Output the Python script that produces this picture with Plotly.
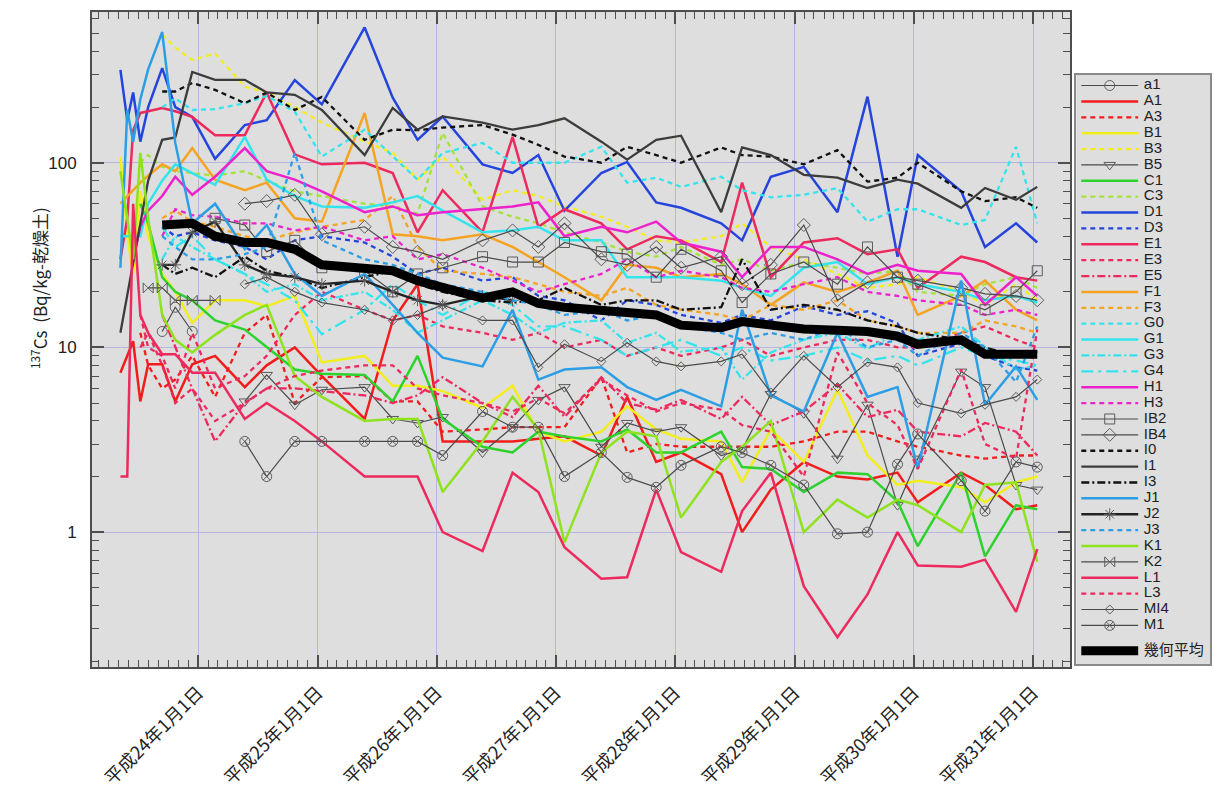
import plotly.graph_objects as go

# Sampling dates (same schedule for every station)
dates = [
    "2011-05-08", "2011-05-29", "2011-06-16", "2011-07-08", "2011-08-01", "2011-09-13",
    "2011-10-23", "2011-12-14", "2012-02-22", "2012-05-23", "2012-07-29", "2012-10-23",
    "2013-01-14", "2013-05-25", "2013-08-19", "2013-11-03", "2014-01-19", "2014-05-21",
    "2014-08-21", "2014-11-08", "2015-01-27", "2015-05-20", "2015-08-07", "2015-11-04",
    "2016-01-19", "2016-05-21", "2016-07-24", "2016-10-20", "2017-01-29", "2017-05-12",
    "2017-08-12", "2017-11-12", "2018-01-13", "2018-05-26", "2018-08-07", "2018-11-10",
    "2019-01-14",
]
N = None

# 137Cs concentration, Bq/kg dry soil
a1 = [N, N, N, N, N, 12.2, 16.5, 12.2, N, N, N, N, N, N, N, N, N, N, N, N, N, N, N, N, N, N, N, N, N, N, N, N, N, N, N, N, N]
A1 = [7.3, 9, 10.8, 5.1, 8.1, 8.1, 5.1, 8.1, 9, 6.1, 8, 10, 7, 4.1, 14, 22, 3.1, 3.1, 3.1, 3.2, 3.3, 2.6, 5.4, 2.4, 2.7, 2.06, 1.0, 1.7, 2.4, 2.0, 1.93, 2.1, 1.45, 2.1, 1.8, 1.33, 1.4]
A3 = [N, N, N, 12, 8, 6, 6.7, 9, 5.4, 12, 15, 5, 6.9, 7, 5.1, 5.1, 3.5, 3.6, 3.7, 3.7, 3.7, 6.9, 2.7, 3.0, 2.9, 2.9, 2.9, 2.9, 3.1, 3.5, 3.5, 3.1, 2.9, 2.6, 2.5, 2.6, 2.6]
B1 = [108, 40, 25, 70, 40, 25, 20, 13.6, 18, 18, 16.7, 19, 8.3, 9, 6.2, 6.2, 5.8, 4.7, 6.2, 3.5, 3.1, 3.5, 4.8, 3.6, 3.2, 3.1, 1.86, 3.6, 2.4, 5.9, 2.6, 1.8, 1.9, 1.75, 1.45, 1.86, 2.0]
B3 = [N, N, N, N, N, 495, 420, 360, 390, 258, 240, 200, 165, 130, 113, 81, 108, 63, 71, 66, 58, 51, 45, 38, 37, 40, 47, 35, 30, 25, 21, 22, 24, 20, 17, 22, 18]
B5 = [N, N, N, N, N, N, N, N, N, 5.1, 7.1, 4.9, 5.9, 6.1, 4.1, 3.9, 4.2, 2.7, 3.7, 5.2, 6.1, 2.9, 3.9, 3.5, 3.7, 2.6, 2.8, 5.6, 4.4, 2.5, 4.9, 1.4, 2.5, 7.4, 6.1, 1.8, 1.7]
C1 = [N, N, N, 60, 47, 24, 20, 18, 14, 12.5, 10, 7.6, 7.2, 7.1, 5.1, 9, 4.1, 2.9, 2.7, 3.5, 3.3, 3.1, 3.6, 2.7, 2.7, 3.5, 2.25, 2.2, 1.65, 2.1, 2.06, 1.47, 0.84, 2.1, 0.74, 1.4, 1.33]
C3 = [N, N, N, 100, 110, 95, 90, 88, 85, 90, 80, 70, 66, 60, 58, 53, 145, 58, 51, 47, 42, 37, 33, 31, 35, 28, 30, 26, 29, 27, 25, 26, 20, 19, 22, 24, 21]
D1 = [318, 170, 240, 130, 200, 325, 200, 177, 105, 160, 170, 280, 207, 540, 225, 133, 178, 98, 88, 110, 55, 88, 101, 61, 57, 47, 38, 84, 95, 54, 228, 31, 110, 70, 35, 47, 37]
D3 = [N, N, N, N, N, 45, 40, 42, 38, 35, 30, 38, 40, 37, 31, 25, 27, 23, 24, 19, 18, 14, 18, 17, 15, 13.6, 15, 14, 16.7, 15, 15.7, 13.5, 9, 10.5, 9, 7.8, 7.5]
E1 = [30, 50, 150, 186, 190, 198, 190, 177, 141, 141, 240, 111, 98, 100, 88, 42, 71, 42, 138, 45, 56, 47, 34, 40, 38, 29, 78, 24, 37, 39, 32, 34, 21, 31, 29, 24, 23]
E3 = [N, N, N, 15, 10, 9, 6, 12, 6, 7, 9, 15, 20, 16, 14, 15, 13, 12, 11, 12, 10, 11, 9, 10, 9, 10, 11, 9, 10, 11, 11, 10, 10, 12, 13, 11, 10]
E5 = [N, N, N, N, N, 15, 10, 6, 3.1, 5, 6, 6, 5.8, 5.5, 5.0, 5.5, 6.9, 5.0, 4.2, 6.2, 4.2, 6.9, 5, 4.6, 5.2, 4.1, 5.4, 3.8, 4.5, 6.3, 4.2, 4.6, 3.5, 3.3, 3.9, 3.5, 2.6]
F1 = [60, N, N, 78, 85, 98, 90, 120, 81, 71, 78, 50, 48, 186, 41, 40, 38, 41, 35, 29, 24, 18, 28, 27, 24, 25, 22, 17, 22.5, 20, 22.5, 26, 15, 19, 23, 16, 14]
F3 = [N, N, N, N, N, 50, 55, 48, 45, 40, 38, 42, 45, 49, 66, 35, 26, 25, 24, 22, 20, 19, 21, 17, 16, 15, 14, 17, 16, 18, 14, 13, 12, 12, 14, 13, 12]
G0 = [N, N, N, N, N, 200, 223, 193, 195, 210, 230, 189, 108, 151, 108, 81, 113, 128, 100, 100, 100, 122, 78, 83, 74, 84, 71, 65, 67, 73, 48, 56, 56, 46, 49, 122, 47]
G1 = [40, N, N, 40, 60, 80, 98, 88, 76, 138, 81, 66, 58, 57, 61, 66, 55, 42, 43, 45, 38, 38, 24, 24, 24, 23, 21, 19, 27, 29, 22, 24, 22, 20, 18, 19, 17.5]
G3 = [N, N, N, N, N, 30, 40, 35, 30, 25, 20, 22, 18, 20, 16, 12, 14, 18, 15, 12, 13.6, 14, 10.6, 12, 9.5, 10, 6.7, 9.4, 11, 12, 9.8, 12, 11, 13, 10.1, 7.6, 8]
G4 = [N, N, N, N, N, 45, 35, 40, 30, 25, 22, 18, 11.8, 16, 22, 18, 15, 20, 17, 13, 13, 11, 9, 10, 11, 9, 10, 8.5, 9, 10, 8.5, 9, 8, 10, 9, 8.5, 8]
H1 = [N, N, 30, 45, 55, 66, 84, 67, 84, 120, 90, 81, 70, 54, 58, 52, 54, 56, 58, 61, 40, 45, 42, 48, 37, 33, 24, 35, 35, 30, 25, 28, 26, 25, 17, 24, 19]
H3 = [N, N, N, N, N, 40, 56, 52, 51, 47, 47, 43, 45, 38, 40, 30, 32, 27, 23, 20, 22, 25, 30, 24, 26, 24, 21, 20, 22, 24, 20, 19, 18, 17, 15, 16, 15]
IB2 = [N, N, N, N, N, N, N, N, 50, 46, 33, 38, 27, 26, 20, 25, 27, 31, 29, 29, 37, 33, 32, 24, 34, 26, 17.5, 25, 29, 22, 35, 24, 22, 18, 16, 20, 26]
IB4 = [N, N, N, N, N, N, N, N, N, 60, 62, 67, 41, 45, 35, 33, 30, 38, 43, 35, 47, 30, 28, 35, 27, 31, 22, 28, 46, 18, 22.5, 24, 23, 21, 19.5, 19, 18]
I0 = [N, N, N, N, N, 243, 243, 270, 248, 210, 240, 193, 227, 133, 151, 150, 155, 160, 142, 125, 108, 100, 122, 110, 100, 121, 110, 108, 98, 117, 79, 83, 100, 70, 62, 65, 57]
I1 = [12, N, N, 47, 80, 133, 137, 310, 281, 281, 240, 233, 193, 110, 198, 151, 178, 165, 151, 160, 174, 130, 104, 133, 140, 54, 121, 110, 86, 83, 73, 81, 77, 57, 73, 63, 74]
I3 = [N, N, N, N, N, 28, 25, 27, 24, 31, 26, 24, 21, 24, 26, 22, 20, 18, 17.5, 18, 21, 17, 18, 18, 16, 16.5, 30, 16, 17, 16, 14, 13, 12, 11, 10, 9, 9.5]
J1 = [27, 193, 130, 220, 320, 510, 128, 47, 60, 34, 46, 25, 19, 25, 17, 12, 8.8, 7.9, 16, 6.7, 7.6, 7.8, 6.1, 5.2, 5.9, 4.8, 16, 5.5, 4.5, 12, 5.4, 6.1, 2.2, 23, 4.9, 7.9, 5.2]
J2 = [N, N, N, N, N, 28, 28, 42, 48, 28, 25, 24, 22, 23, 20, 18, 17, 19, 18, N, N, N, N, N, N, N, N, N, N, N, N, N, N, N, N, N, N]
J3 = [N, N, N, N, N, 40, 35, 30, 30, 32, 35, 113, 38, 30, 28, 25, 22, 20, 18, 17, 15, 16, 14, 15, 13, 12, 11, 12, 11, 13, 10, 11, 9, 12, 10, 6.5, 13]
K1 = [90, 50, 30, 113, 50, 15, 11, 9.4, 11.7, 15, 17, 7, 5.4, 4.0, 4.1, 4.1, 1.65, 3.1, 5.4, 3.6, 0.88, 2.7, 3.5, 3.3, 1.2, 2.4, 2.9, 4.0, 1.0, 1.5, 1.2, 1.5, 1.4, 1.0, 1.8, 1.86, 0.69]
K2 = [N, N, N, N, 21, 21, 18, 18, 18, N, N, N, N, N, N, N, N, N, N, N, N, N, N, N, N, N, N, N, N, N, N, N, N, N, N, N, N]
L1 = [2.0, 2.0, 60, 15, 12, 9.2, 9.2, 7.3, 7.3, 4.1, 5.0, 4.0, 3.1, 2.0, 2.0, 2.0, 1.0, 0.79, 2.1, 1.65, 0.83, 0.56, 0.57, 1.7, 0.78, 0.61, 1.3, 2.1, 0.51, 0.27, 0.46, 1.0, 0.66, 0.65, 0.71, 0.37, 0.81]
L3 = [N, N, N, 10, 12, 8, 5, 6, 4, 5, 6, 7, 7.5, 8, 8, 6, 5.5, 5, 4.5, 5.3, 4.4, 6.7, 5.5, 4.5, 5, 4.6, 3.8, 3.5, 2.0, 9.4, 5, 3.8, 2.2, 7.6, 3.0, 2.5, 12.5]
MI4 = [N, N, N, N, N, N, N, N, N, 22, 24, 20, 17.5, 16, 14, 15, 17, 14, 14, 7.8, 10.4, 8.4, 10.6, 8.4, 7.9, 8.4, 9.2, 5.7, 9, 6.1, 8.3, 7.8, 5, 4.4, 4.9, 5.4, 6.7]
M1 = [N, N, N, N, N, N, N, N, N, 3.1, 2.0, 3.1, 3.1, 3.1, 3.1, 3.1, 2.6, 4.5, 3.7, 3.7, 2.0, 2.7, 1.98, 1.75, 2.3, 2.9, 2.7, 2.3, 1.8, 0.98, 1.0, 2.33, 3.4, 1.9, 1.3, 2.4, 2.25]
geo_mean = [N, N, N, N, N, 46, 46, 47, 40, 37, 37, 34, 28, 27, 26, 23, 21, 18.5, 20, 17.3, 16.5, 15.8, 15.6, 15, 13.2, 12.8, 13.8, 13.1, 12.6, 12.4, 12.2, 11.5, 10.4, 11, 9.2, 9.2, 9.2]

year_ticks = ["2012-01-01", "2013-01-01", "2014-01-01", "2015-01-01",
              "2016-01-01", "2017-01-01", "2018-01-01", "2019-01-01"]
year_labels = ["平成24年1月1日", "平成25年1月1日", "平成26年1月1日", "平成27年1月1日",
               "平成28年1月1日", "平成29年1月1日", "平成30年1月1日", "平成31年1月1日"]

# --- styles -------------------------------------------------------------
RED, YEL, GRN, YGR = "#f21c1c", "#f2ee1e", "#2ed22e", "#a6e23c"
BLU, CRM, ORG, CYN = "#2444dc", "#ec2a5e", "#f4a422", "#34e4ec"
MAG, LBL, LGR, GRY = "#ee22cc", "#2c9ee6", "#8ee21e", "#4a4a4a"
MARK = "#5c5c5c"
DASH = "5px,4px"
DASHDOT = "8px,3px,2px,3px"
LONGDASHDOT = "12px,5px,3px,5px"

series = [
    ("a1", a1, GRY, 1.2, "solid", "circle-open"),
    ("A1", A1, RED, 2.5, "solid", None),
    ("A3", A3, RED, 2.3, DASH, None),
    ("B1", B1, YEL, 2.5, "solid", None),
    ("B3", B3, YEL, 2.3, DASH, None),
    ("B5", B5, GRY, 1.2, "solid", "triangle-down-open"),
    ("C1", C1, GRN, 2.5, "solid", None),
    ("C3", C3, YGR, 2.3, DASH, None),
    ("D1", D1, BLU, 2.5, "solid", None),
    ("D3", D3, BLU, 2.3, DASH, None),
    ("E1", E1, CRM, 2.5, "solid", None),
    ("E3", E3, CRM, 2.3, DASH, None),
    ("E5", E5, CRM, 2.3, DASHDOT, None),
    ("F1", F1, ORG, 2.5, "solid", None),
    ("F3", F3, ORG, 2.3, DASH, None),
    ("G0", G0, CYN, 2.3, DASH, None),
    ("G1", G1, CYN, 2.5, "solid", None),
    ("G3", G3, CYN, 2.3, DASHDOT, None),
    ("G4", G4, CYN, 2.3, LONGDASHDOT, None),
    ("H1", H1, MAG, 2.5, "solid", None),
    ("H3", H3, MAG, 2.3, DASH, None),
    ("IB2", IB2, GRY, 1.2, "solid", "square-open"),
    ("IB4", IB4, GRY, 1.2, "solid", "diamond-open"),
    ("I0", I0, "#111111", 2.3, DASH, None),
    ("I1", I1, "#3c3c3c", 2.3, "solid", None),
    ("I3", I3, "#111111", 2.3, DASHDOT, None),
    ("J1", J1, LBL, 2.5, "solid", None),
    ("J2", J2, "#222222", 2.3, "solid", "asterisk-open"),
    ("J3", J3, LBL, 2.3, DASH, None),
    ("K1", K1, LGR, 2.5, "solid", None),
    ("K2", K2, GRY, 1.2, "solid", "bowtie-open"),
    ("L1", L1, CRM, 2.5, "solid", None),
    ("L3", L3, CRM, 2.3, DASH, None),
    ("MI4", MI4, GRY, 1.2, "solid", "diamond-open"),
    ("M1", M1, GRY, 1.2, "solid", "circle-x-open"),
]
marker_size = {"MI4": 7}

fig = go.Figure()

for name, vals, color, width, dash, symbol in series:
    mode = "lines+markers" if symbol else "lines"
    fig.add_trace(go.Scatter(
        x=dates, y=vals, name=name, mode=mode, connectgaps=True,
        line=dict(color=color, width=width, dash=dash),
        marker=dict(symbol=symbol or "circle", size=marker_size.get(name, 10),
                    color=MARK, line=dict(color=MARK, width=1)),
        showlegend=False, xaxis="x", yaxis="y",
    ))

fig.add_trace(go.Scatter(
    x=dates, y=geo_mean, name="幾何平均", mode="lines", connectgaps=True,
    line=dict(color="#000000", width=9), showlegend=False, xaxis="x", yaxis="y",
))

# --- hand-built legend on its own small axes ---------------------------
for row, (name, vals, color, width, dash, symbol) in enumerate(series):
    fig.add_trace(go.Scatter(
        x=[0, 1], y=[row] * 2, mode="lines",
        line=dict(color=color, width=width, dash=dash),
        showlegend=False, hoverinfo="skip", xaxis="x2", yaxis="y2",
    ))
    if symbol:
        fig.add_trace(go.Scatter(
            x=[0.5], y=[row], mode="markers",
            marker=dict(symbol=symbol, size=marker_size.get(name, 10),
                        color=MARK, line=dict(color=MARK, width=1)),
            showlegend=False, hoverinfo="skip", xaxis="x2", yaxis="y2",
        ))
mean_row = len(series) + 0.6
fig.add_trace(go.Scatter(
    x=[0, 1], y=[mean_row] * 2, mode="lines", line=dict(color="#000000", width=9),
    showlegend=False, hoverinfo="skip", xaxis="x2", yaxis="y2",
))
fig.add_trace(go.Scatter(
    x=[1.1] * len(series), y=list(range(len(series))), mode="text",
    text=[s[0] for s in series], textposition="middle right",
    textfont=dict(family="Liberation Sans, Arial", size=15, color="#222222"),
    showlegend=False, hoverinfo="skip", xaxis="x2", yaxis="y2",
))
fig.add_trace(go.Scatter(
    x=[1.1], y=[mean_row], mode="text", text=["幾何平均"], textposition="middle right",
    textfont=dict(family="Noto Sans CJK JP", size=15, color="#222222"),
    showlegend=False, hoverinfo="skip", xaxis="x2", yaxis="y2",
))

FRAME = "#4e4e4e"
GRID = "#b6b6de"

fig.update_layout(
    width=1215, height=792, autosize=False,
    margin=dict(l=92, r=3, t=12, b=124),
    paper_bgcolor="#ffffff", plot_bgcolor="#dedede",
    font=dict(family="Noto Sans CJK JP, Liberation Sans", color="#222222"),
    xaxis=dict(
        domain=[0, 0.875], type="date", range=["2011-02-10", "2019-04-25"],
        tickmode="array", tickvals=year_ticks, ticktext=year_labels, tickangle=-45,
        tickfont=dict(size=18, family="Noto Sans CJK JP"),
        ticks="inside", ticklen=12, tickwidth=1.5, tickcolor=FRAME,
        ticklabelstandoff=6,
        minor=dict(ticks="inside", ticklen=7, tickwidth=1, tickcolor=FRAME,
                   dtick="M1", tick0="2012-01-01", showgrid=False),
        showline=True, linecolor=FRAME, linewidth=2, mirror="allticks",
        showgrid=True, gridcolor=GRID, gridwidth=1, zeroline=False,
    ),
    yaxis=dict(
        type="log", range=[-0.730, 2.816],
        tickmode="array", tickvals=[1, 10, 100], ticktext=["1", "10", "100"],
        tickfont=dict(size=17, family="Liberation Sans, Arial"),
        ticks="inside", ticklen=12, tickwidth=1.5, tickcolor=FRAME,
        ticklabelstandoff=10,
        minor=dict(ticks="inside", ticklen=7, tickwidth=1, tickcolor=FRAME,
                   tickvals=[0.2, 0.3, 0.4, 0.5, 0.6, 0.7, 0.8, 0.9,
                             2, 3, 4, 5, 6, 7, 8, 9,
                             20, 30, 40, 50, 60, 70, 80, 90,
                             200, 300, 400, 500, 600],
                   showgrid=False),
        showline=True, linecolor=FRAME, linewidth=2, mirror="allticks",
        showgrid=True, gridcolor=GRID, gridwidth=1, zeroline=False,
    ),
    xaxis2=dict(
        domain=[0.8804, 1.0], anchor="y2", range=[-0.088, 2.263],
        showgrid=False, zeroline=False, showticklabels=False, ticks="",
        showline=True, linecolor="#8a8a8a", linewidth=1.5, mirror=True, fixedrange=True,
    ),
    yaxis2=dict(
        domain=[0.0046, 0.904], anchor="x2", range=[36.43, -0.67],
        showgrid=False, zeroline=False, showticklabels=False, ticks="",
        showline=True, linecolor="#8a8a8a", linewidth=1.5, mirror=True, fixedrange=True,
    ),
    annotations=[dict(
        text="<sup>137</sup>Cs  (Bq/kg-乾燥土)", textangle=-90,
        xref="paper", yref="paper", x=-0.048, y=0.579,
        xanchor="center", yanchor="middle", showarrow=False,
        font=dict(family="Noto Sans CJK JP", size=17, color="#222222"),
    )],
)

fig.write_html("out.html")
